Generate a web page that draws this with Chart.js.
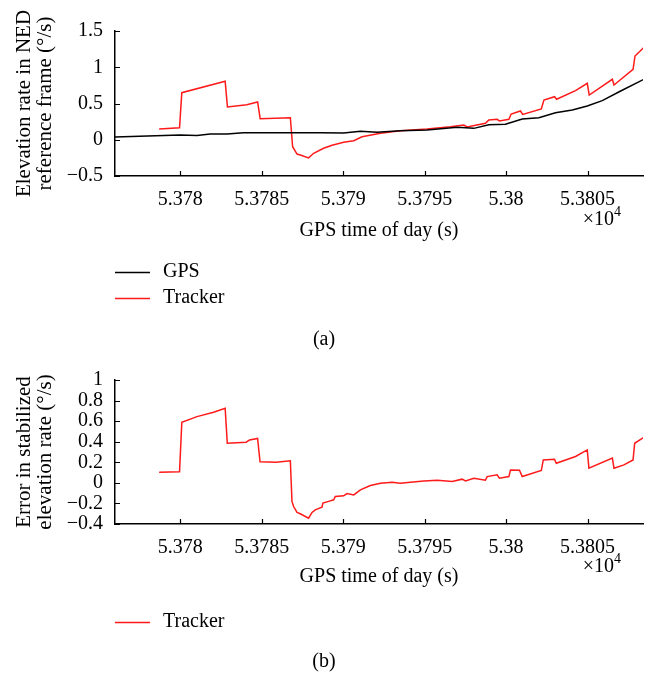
<!DOCTYPE html>
<html>
<head>
<meta charset="utf-8">
<script src="https://cdn.jsdelivr.net/npm/chart.js@4.4.1/dist/chart.umd.min.js"></script>
<style>
  body { margin: 0; background: #fff; }
  #wrap { position: relative; width: 648px; height: 678px; }
  .box { position: absolute; left: 0; width: 648px; }
</style>
</head>
<body>
<div id="wrap">
  <div class="box" style="top:0"><canvas id="rateChart" width="648" height="355"></canvas></div>
  <div class="box" style="top:355px"><canvas id="errorChart" width="648" height="323"></canvas></div>
</div>
<script>
var FONT = "'Liberation Serif', 'Times New Roman', serif"

// GPS time of day (s) / elevation rate in NED frame (deg/s)
var gpsTime = [53776.0, 53780.0, 53781.03, 53781.84, 53782.87, 53783.89, 53786.76, 53788.6, 53790.03, 53791.06, 53792.08, 53793.51, 53795.15, 53797.0, 53798.02, 53798.94, 53799.96, 53800.99, 53802.01, 53803.03, 53804.06, 53804.98, 53805.9, 53807.03, 53808.46]
var gpsRate = [0.038, 0.066, 0.06, 0.079, 0.079, 0.097, 0.097, 0.097, 0.093, 0.116, 0.102, 0.125, 0.134, 0.171, 0.157, 0.208, 0.213, 0.286, 0.305, 0.373, 0.41, 0.465, 0.539, 0.672, 0.834]

var trackerTime = [53778.71, 53779.96, 53780.1, 53782.76, 53782.9, 53784.09, 53784.75, 53784.91, 53786.76, 53786.9, 53787.17, 53787.37, 53787.88, 53788.19, 53788.8, 53789.32, 53790.03, 53790.65, 53791.16, 53792.29, 53793.51, 53795.15, 53796.58, 53797.4, 53797.61, 53798.73, 53798.94, 53799.45, 53799.59, 53800.17, 53800.31, 53800.88, 53801.02, 53802.16, 53802.32, 53802.97, 53803.1, 53804.26, 53804.98, 53805.1, 53806.52, 53806.62, 53807.79, 53807.91, 53808.46]
var trackerRate = [0.148, 0.166, 0.649, 0.806, 0.452, 0.484, 0.521, 0.29, 0.304, -0.096, -0.197, -0.21, -0.25, -0.187, -0.118, -0.077, -0.035, -0.013, 0.042, 0.089, 0.125, 0.148, 0.18, 0.203, 0.176, 0.227, 0.272, 0.282, 0.259, 0.282, 0.355, 0.397, 0.35, 0.424, 0.548, 0.594, 0.558, 0.677, 0.778, 0.617, 0.834, 0.755, 0.972, 1.155, 1.275]

// error in stabilized elevation rate (deg/s)
var errorTime = [53778.71, 53779.96, 53780.1, 53781.03, 53782.05, 53782.76, 53782.89, 53784.05, 53784.26, 53784.75, 53784.9, 53785.88, 53786.76, 53786.86, 53786.96, 53787.17, 53787.37, 53787.88, 53788.09, 53788.29, 53788.7, 53788.76, 53789.11, 53789.42, 53789.52, 53790.03, 53790.24, 53790.65, 53791.06, 53791.67, 53792.29, 53793.0, 53793.51, 53794.13, 53794.95, 53795.77, 53796.69, 53797.3, 53797.51, 53798.02, 53798.73, 53798.84, 53799.45, 53799.59, 53800.17, 53800.27, 53800.82, 53800.99, 53802.16, 53802.28, 53802.97, 53803.08, 53804.26, 53804.98, 53805.08, 53806.52, 53806.62, 53807.23, 53807.79, 53807.89, 53808.46]
var errorRate = [0.104, 0.107, 0.589, 0.644, 0.686, 0.725, 0.385, 0.395, 0.417, 0.432, 0.204, 0.2, 0.215, -0.18, -0.23, -0.288, -0.3, -0.343, -0.288, -0.262, -0.236, -0.197, -0.18, -0.165, -0.133, -0.126, -0.104, -0.117, -0.068, -0.026, -0.003, 0.007, -0.003, 0.007, 0.019, 0.026, 0.013, 0.036, 0.019, 0.045, 0.026, 0.061, 0.078, 0.045, 0.061, 0.126, 0.123, 0.061, 0.12, 0.223, 0.23, 0.191, 0.256, 0.32, 0.143, 0.24, 0.143, 0.175, 0.223, 0.385, 0.443]

var timeTicks = [53780, 53785, 53790, 53795, 53800, 53805]
var rateTicks = [-0.5, 0, 0.5, 1, 1.5]
var errorTicks = [-0.4, -0.2, 0, 0.2, 0.4, 0.6, 0.8, 1]

function toPoints(xs, ys) {
	return xs.map(function(x, i){ return {x: x, y: ys[i]} })
}

function fixTicks(values) {
	return function(scale) {
		scale.ticks = values.map(function(v){ return {value: v} })
	}
}

// small ticks pointing into the plot, plus legend, caption and the x10^4 multiplier
var figureDecor = {
	id: 'figureDecor',
	afterDraw: function(chart, args, opts) {
		var ctx = chart.ctx
		var x = chart.scales.x, y = chart.scales.y
		var area = chart.chartArea
		ctx.save()
		ctx.strokeStyle = '#000'
		ctx.lineWidth = 1.2
		ctx.beginPath()
		x.ticks.forEach(function(t) {
			var px = Math.round(x.getPixelForValue(t.value)) + 0.5
			ctx.moveTo(px, area.bottom)
			ctx.lineTo(px, area.bottom - 5)
		})
		y.ticks.forEach(function(t) {
			var py = Math.round(y.getPixelForValue(t.value)) + 0.5
			ctx.moveTo(area.left, py)
			ctx.lineTo(area.left + 5, py)
		})
		ctx.stroke()

		ctx.fillStyle = '#000'
		ctx.font = '20px ' + FONT
		ctx.textBaseline = 'middle'
		ctx.textAlign = 'right'
		ctx.fillText('\u00d710', opts.multX, opts.multY)
		ctx.font = '14px ' + FONT
		ctx.textAlign = 'left'
		ctx.fillText('4', opts.multX, opts.multY - 8)

		ctx.font = '20px ' + FONT
		chart.data.datasets.forEach(function(ds, i) {
			var ly = opts.legendY + i * opts.legendGap
			ctx.strokeStyle = ds.borderColor
			ctx.lineWidth = 1.5
			ctx.beginPath()
			ctx.moveTo(115, ly + 0.5)
			ctx.lineTo(150, ly + 0.5)
			ctx.stroke()
			ctx.fillText(ds.label, 163, ly)
		})
		ctx.textAlign = 'center'
		ctx.fillText(opts.caption, 324, opts.captionY)
		ctx.restore()
	}
}

function makeOptions(cfg) {
	return {
		responsive: false,
		animation: false,
		layout: {padding: {top: cfg.top, right: 5, left: 0, bottom: 0}},
		plugins: {
			legend: {display: false},
			tooltip: {enabled: false},
			figureDecor: cfg.decor
		},
		scales: {
			x: {
				type: 'linear',
				min: 53776,
				max: 53808.4,
				afterBuildTicks: fixTicks(timeTicks),
				afterFit: function(s){ s.height = cfg.xHeight },
				grid: {display: false, drawTicks: false},
				border: {color: '#000', width: 1.5},
				ticks: {
					padding: 12, color: '#000', maxRotation: 0, autoSkip: false,
					font: {family: FONT, size: 20},
					callback: function(v){ return String(parseFloat((v / 1e4).toFixed(5))) }
				},
				title: {
					display: true, text: 'GPS time of day (s)', color: '#000',
					font: {family: FONT, size: 20}, padding: {top: 0, bottom: cfg.titlePad}
				}
			},
			y: {
				min: cfg.yMin,
				max: cfg.yMax,
				afterBuildTicks: fixTicks(cfg.yTicks),
				afterFit: function(s){ s.width = 115 },
				grid: {display: false, drawTicks: false},
				border: {color: '#000', width: 1.5},
				ticks: {
					padding: 12, color: '#000', autoSkip: false,
					font: {family: FONT, size: 20},
					callback: function(v){ return String(parseFloat(v.toFixed(2))).replace('-', '\u2212') }
				},
				title: {
					display: true, text: cfg.yTitle, color: '#000',
					font: {family: FONT, size: 21, lineHeight: 1}, padding: {top: 14, bottom: 0}
				}
			}
		}
	}
}

new Chart(document.getElementById('rateChart'), {
	type: 'line',
	data: {
		datasets: [
			{label: 'GPS', data: toPoints(gpsTime, gpsRate), borderColor: '#000', borderWidth: 1.5, pointRadius: 0, tension: 0},
			{label: 'Tracker', data: toPoints(trackerTime, trackerRate), borderColor: '#ff1a1a', borderWidth: 1.5, pointRadius: 0, tension: 0}
		]
	},
	options: makeOptions({
		top: 31, xHeight: 179, titlePad: 112, yMin: -0.5, yMax: 1.5, yTicks: rateTicks,
		yTitle: ['Elevation rate in NED', 'reference frame (\u00b0/s)'],
		decor: {multX: 614, multY: 220, legendY: 272, legendGap: 26, caption: '(a)', captionY: 340}
	}),
	plugins: [figureDecor]
})

new Chart(document.getElementById('errorChart'), {
	type: 'line',
	data: {
		datasets: [
			{label: 'Tracker', data: toPoints(errorTime, errorRate), borderColor: '#ff1a1a', borderWidth: 1.5, pointRadius: 0, tension: 0}
		]
	},
	options: makeOptions({
		top: 25, xHeight: 154, titlePad: 89, yMin: -0.4, yMax: 1, yTicks: errorTicks,
		yTitle: ['Error in stabilized', 'elevation rate (\u00b0/s)'],
		decor: {multX: 614, multY: 212, legendY: 267, legendGap: 26, caption: '(b)', captionY: 307}
	}),
	plugins: [figureDecor]
})
</script>
</body>
</html>
